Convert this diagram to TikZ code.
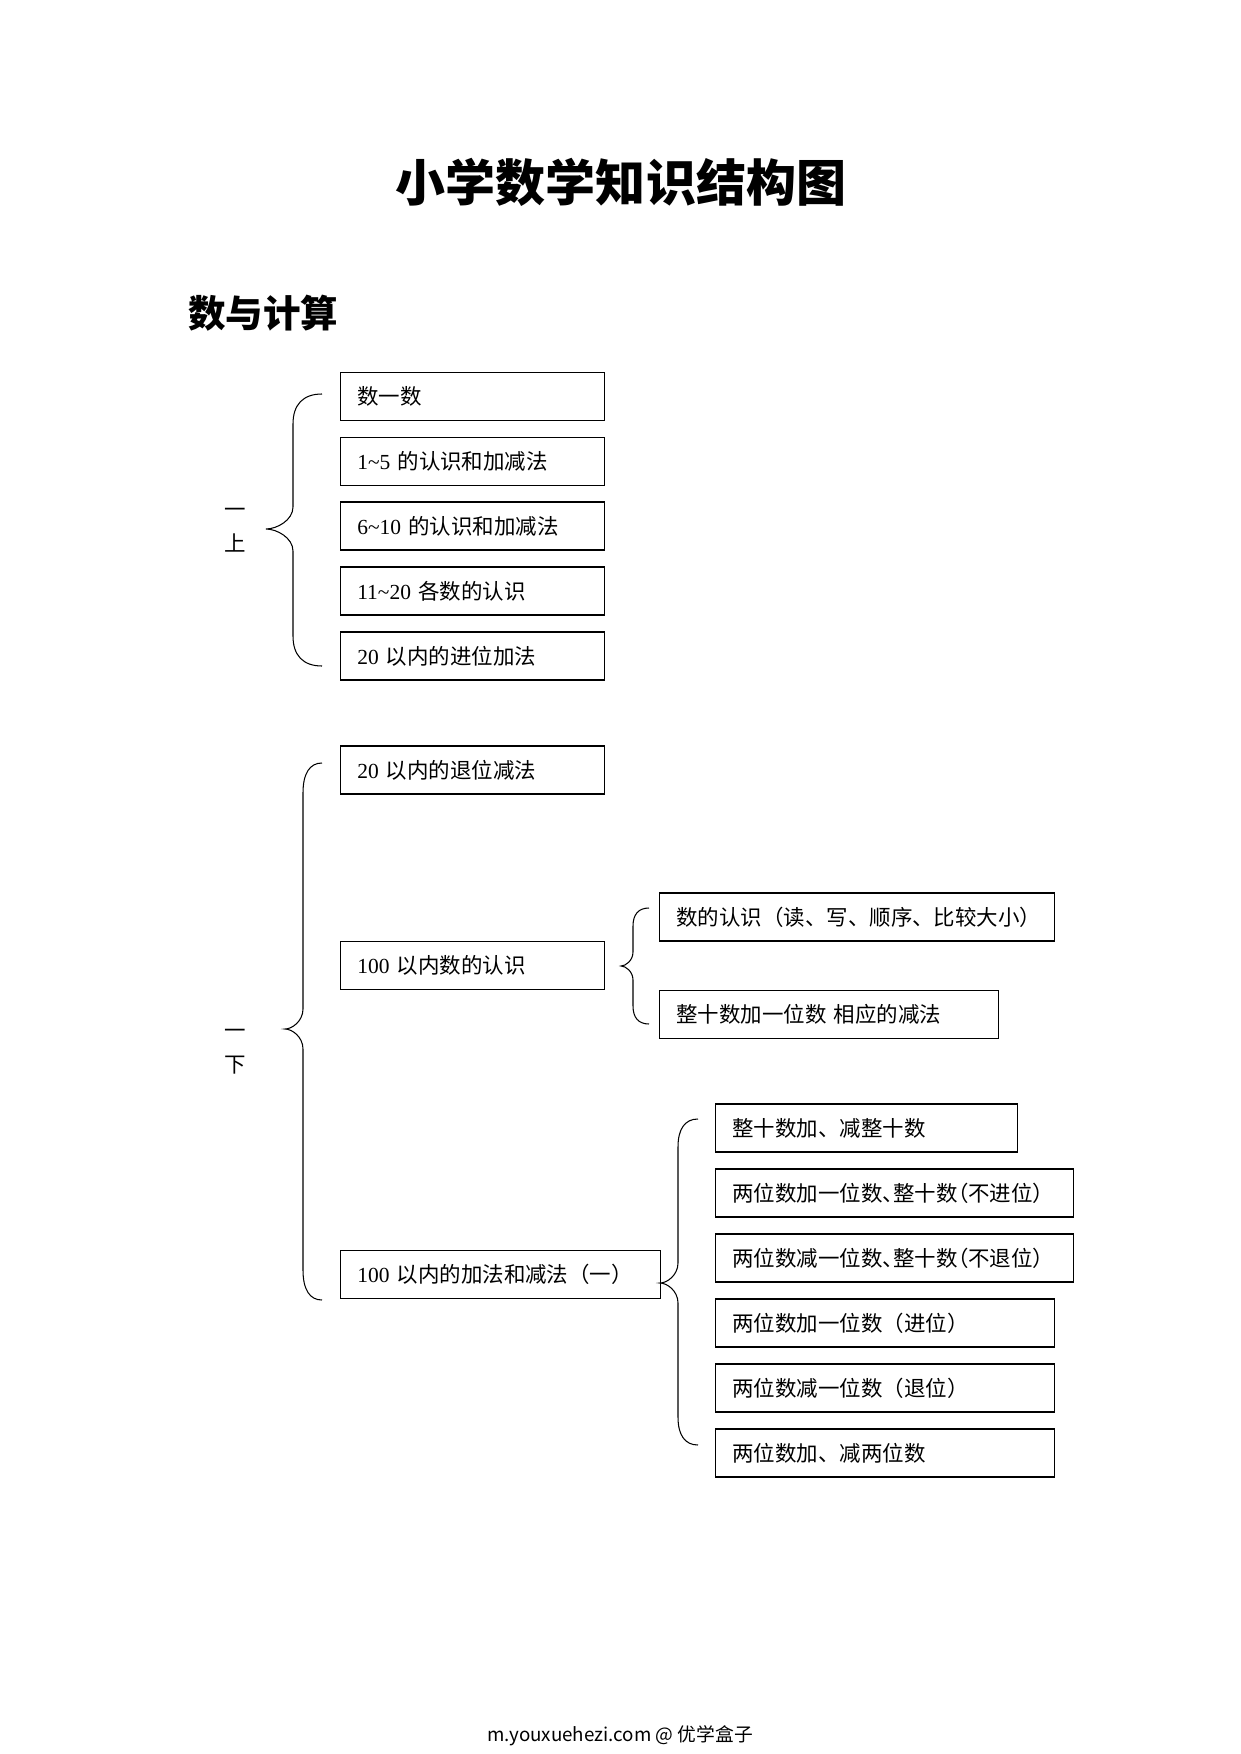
\documentclass[tikz,border=0pt]{standalone}
\usepackage{fontspec}
\setmainfont{Liberation Serif}
\newfontfamily\cjk{Noto Sans CJK SC}
\newfontfamily\cjkhalt[RawFeature=+halt]{Noto Sans CJK SC}

% curly brace opening to the right:
% end x, spine x, tip x, top y, tip y, bottom y, end bend, tip bend
\newcommand{\curlybrace}[8]{%
  \draw[brace line] (#1,#4) .. controls (#2+0.35*#1-0.35*#2,#4) and (#2,#4+0.35*#7) .. (#2,#4+#7)
    -- (#2,#5-#8) .. controls (#2,#5-0.4*#8) and (#3+0.4*#2-0.4*#3,#5) .. (#3,#5)
    .. controls (#3+0.4*#2-0.4*#3,#5) and (#2,#5+0.4*#8) .. (#2,#5+#8)
    -- (#2,#6-#7) .. controls (#2,#6-0.35*#7) and (#2+0.35*#1-0.35*#2,#6) .. (#1,#6);}

\begin{document}
\begin{tikzpicture}[x=0.4797pt, y=-0.4797pt,
  topic/.style={draw, line width=.6pt, inner xsep=8pt, inner ysep=0pt,
    minimum height=23pt, text width=#1, align=left, anchor=west,
    font=\fontsize{10.3}{12}\selectfont},
  brace line/.style={line width=.5pt},
  term/.style={align=center, font=\fontsize{10.3}{16.3}\selectfont\cjk}]
\fill[white] (0,0) rectangle (1241,1754);
\useasboundingbox (0,0) rectangle (1241,1754);

% headings
\node[font=\fontsize{24}{28}\selectfont\cjk\bfseries] (title) at (621,182) {小学数学知识结构图};
\node[anchor=west, inner sep=0pt, font=\fontsize{18}{22}\selectfont\cjk\bfseries] (part) at (188,313) {数与计算};

% first term
\node[term] (up) at (235,530) {一\\上};
\node[topic=110.6pt] (count) at (340,396.5) {\cjk 数一数};
\node[topic=110.6pt] (five) at (340,461.5) {1\textasciitilde5 {\cjk 的认识和加减法}};
\node[topic=110.6pt] (ten) at (340,526) {6\textasciitilde10 {\cjk 的认识和加减法}};
\node[topic=110.6pt] (twenty) at (340,591) {11\textasciitilde20 {\cjk 各数的认识}};
\node[topic=110.6pt] (carry) at (340,656) {20 {\cjk 以内的进位加法}};
\curlybrace{322}{293}{266}{394}{529}{666}{30}{22}

% second term
\node[term] (down) at (235,1052) {一\\下};
\node[topic=110.6pt] (borrow) at (340,770) {20 {\cjk 以内的退位减法}};
\node[topic=110.6pt] (know) at (340,965.5) {100 {\cjk 以内数的认识}};
\node[topic=137.5pt] (addsub) at (340,1274.5) {100 {\cjk 以内的加法和减法（一）}};
\curlybrace{322}{303}{285}{763}{1029}{1300}{30}{20}

% 100 以内数的认识
\node[topic=173.5pt] (read) at (659,917) {\cjk 数的认识（读、写、顺序、比较大小）};
\node[topic=146.6pt] (tens) at (659,1014.5) {\cjk 整十数加一位数\ 相应的减法};
\curlybrace{649}{633}{621}{908}{966}{1024}{18}{14}

% 100 以内的加法和减法
\node[topic=128.9pt] (va) at (715,1128) {\cjk 整十数加、减整十数};
\node[topic=155.7pt] (vb) at (715,1193) {\cjkhalt 两位数加一位数、整十数（不进位）};
\node[topic=155.7pt] (vc) at (715,1258) {\cjkhalt 两位数减一位数、整十数（不退位）};
\node[topic=146.6pt] (vd) at (715,1323) {\cjk 两位数加一位数（进位）};
\node[topic=146.6pt] (ve) at (715,1388) {\cjk 两位数减一位数（退位）};
\node[topic=146.6pt] (vf) at (715,1453) {\cjk 两位数加、减两位数};
\curlybrace{698}{678}{660}{1119}{1283}{1445}{28}{20}

% footer
\node[font=\fontsize{9}{10}\selectfont\cjk] (foot) at (620,1736) {m.youxuehezi.com @ 优学盒子};
\end{tikzpicture}
\end{document}
